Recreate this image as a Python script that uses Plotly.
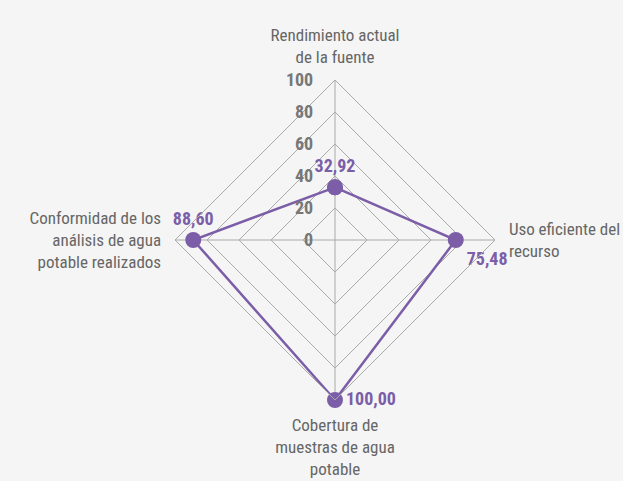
import plotly.graph_objects as go

categories = [
    "Rendimiento actual<br>de la fuente",
    "Uso eficiente del<br>recurso",
    "Cobertura de<br>muestras de agua<br>potable",
    "Conformidad de los<br>análisis de agua<br>potable realizados",
]
values = [32.92, 75.48, 100.00, 88.60]
radial_ticks = [0, 20, 40, 60, 80, 100]
label_positions = ["top center", "bottom right", "middle right", "top center"]

FONT = "Liberation Sans Narrow, Roboto Condensed, Arial Narrow, Roboto, sans-serif"
PURPLE = "#7b5ea7"
GRID = "#aaaaaa"
BG = "#f5f5f5"

labels = [f"{v:.2f}".replace(".", ",") for v in values]

fig = go.Figure()
fig.add_trace(go.Scatterpolar(
    r=values + values[:1],
    theta=categories + categories[:1],
    mode="lines+markers+text",
    line=dict(color=PURPLE, width=2.5),
    marker=dict(color=PURPLE, size=16),
    text=labels + [""],
    textposition=label_positions + ["top center"],
    textfont=dict(family=FONT, size=18, color=PURPLE, weight="bold"),
    cliponaxis=False,
    hoverinfo="skip",
))

W, H = 623, 481
cx, cy, R = 335, 240, 160
fig.update_layout(
    width=W, height=H,
    margin=dict(l=0, r=0, t=0, b=0),
    paper_bgcolor=BG,
    plot_bgcolor=BG,
    showlegend=False,
    font=dict(family=FONT),
    polar=dict(
        domain=dict(x=[(cx - R) / W, (cx + R) / W], y=[(H - cy - R) / H, (H - cy + R) / H]),
        bgcolor=BG,
        gridshape="linear",
        radialaxis=dict(
            range=[0, 100],
            tickvals=radial_ticks,
            ticktext=[str(t) for t in radial_ticks],
            angle=90,
            tickangle=90,
            side="counterclockwise",
            showline=False,
            ticks="outside",
            ticklen=15,
            tickcolor="rgba(0,0,0,0)",
            gridcolor=GRID,
            gridwidth=1,
            tickfont=dict(family=FONT, size=18, color="#777777", weight="bold"),
        ),
        angularaxis=dict(
            rotation=90,
            direction="clockwise",
            showline=True,
            linecolor=GRID,
            linewidth=1,
            gridcolor=GRID,
            ticks="outside",
            ticklen=10,
            tickcolor="rgba(0,0,0,0)",
            tickfont=dict(family=FONT, size=17, color="#666666"),
        ),
    ),
)

fig.write_html(
    "out.html",
    config={"displayModeBar": False},
    post_script="document.body.style.margin='0';document.body.style.background='%s';" % BG,
)
